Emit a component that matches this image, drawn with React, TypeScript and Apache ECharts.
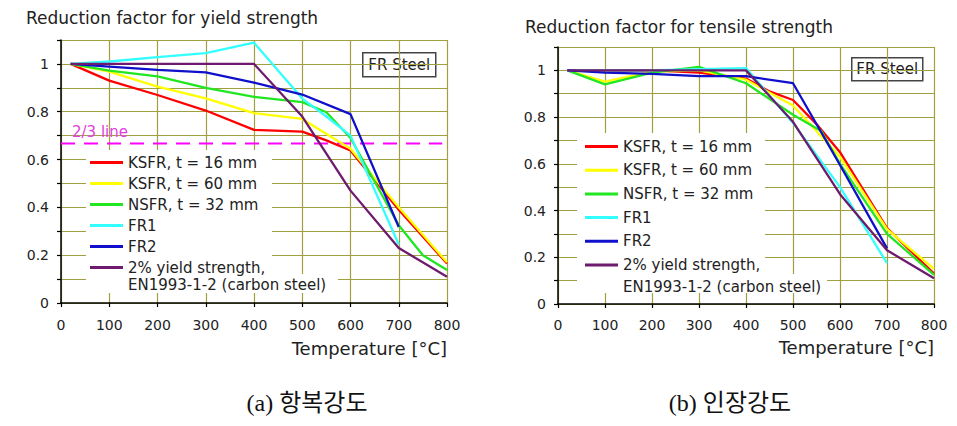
import React, { useEffect, useRef } from "react";
import * as echarts from "echarts";

const FONT = '"DejaVu Sans", Verdana, sans-serif';
const CAPTION_FONT = '"Liberation Serif", "Noto Sans CJK KR", serif';

// Legend / series names
const seriesNames = [
  "KSFR, t = 16 mm",
  "KSFR, t = 60 mm",
  "NSFR, t = 32 mm",
  "FR1",
  "FR2",
  "2% yield strength,",
];
const secondLine = "EN1993-1-2 (carbon steel)";
const seriesColors = ["#ff0000", "#ffff00", "#22e622", "#33ffff", "#1010cc", "#6e1a6e"];

// x-axis ticks
const tempTicks = [0, 100, 200, 300, 400, 500, 600, 700, 800];

// ---------- (a) yield strength ----------
const yKSFR16T = [20, 100, 200, 300, 400, 500, 550, 600, 700, 800];
const yKSFR16V = [1.0, 0.93, 0.87, 0.805, 0.724, 0.717, 0.68, 0.638, 0.39, 0.165];
const yKSFR60T = [20, 100, 200, 300, 400, 500, 600, 700, 800];
const yKSFR60V = [1.0, 0.968, 0.905, 0.856, 0.794, 0.77, 0.645, 0.4, 0.17];
const yNSFRT = [20, 100, 200, 300, 400, 500, 550, 600, 700, 750, 800];
const yNSFRV = [1.0, 0.972, 0.948, 0.9, 0.862, 0.84, 0.798, 0.69, 0.325, 0.2, 0.138];
const yFR1T = [20, 100, 200, 300, 400, 500, 550, 600, 700];
const yFR1V = [1.0, 1.01, 1.028, 1.045, 1.089, 0.855, 0.78, 0.7, 0.245];
const yFR2T = [20, 100, 200, 300, 400, 500, 600, 700];
const yFR2V = [1.0, 0.989, 0.975, 0.965, 0.922, 0.872, 0.79, 0.318];
const yENT = [20, 400, 500, 600, 700, 800];
const yENV = [1.0, 1.0, 0.78, 0.47, 0.23, 0.11];

// 2/3 line
const twoThirdsT = [0, 790];
const twoThirdsV = 2 / 3;

// ---------- (b) tensile strength ----------
const tKSFR16T = [20, 100, 200, 300, 400, 450, 500, 550, 600, 700, 800];
const tKSFR16V = [1.0, 1.0, 1.0, 0.99, 0.965, 0.91, 0.873, 0.77, 0.65, 0.325, 0.13];
const tKSFR60T = [20, 100, 200, 300, 400, 500, 600, 700, 800];
const tKSFR60V = [1.0, 0.952, 0.995, 1.0, 0.96, 0.85, 0.63, 0.32, 0.15];
const tNSFRT = [20, 100, 200, 300, 400, 500, 560, 600, 700, 800];
const tNSFRV = [1.0, 0.94, 0.99, 1.015, 0.945, 0.81, 0.74, 0.6, 0.3, 0.125];
const tFR1T = [20, 100, 200, 300, 400, 500, 600, 700];
const tFR1V = [1.0, 1.0, 1.0, 1.005, 1.01, 0.775, 0.5, 0.175];
const tFR2T = [20, 100, 200, 300, 400, 500, 600, 700];
const tFR2V = [1.0, 0.99, 0.985, 0.975, 0.975, 0.945, 0.595, 0.238];
const tENT = [20, 400, 500, 600, 700, 800];
const tENV = [1.0, 1.0, 0.78, 0.47, 0.23, 0.11];

const yieldSets = [
  [yKSFR16T, yKSFR16V],
  [yKSFR60T, yKSFR60V],
  [yNSFRT, yNSFRV],
  [yFR1T, yFR1V],
  [yFR2T, yFR2V],
  [yENT, yENV],
];
const tensileSets = [
  [tKSFR16T, tKSFR16V],
  [tKSFR60T, tKSFR60V],
  [tNSFRT, tNSFRV],
  [tFR1T, tFR1V],
  [tFR2T, tFR2V],
  [tENT, tENV],
];

const titles = ["Reduction factor for yield strength", "Reduction factor for tensile strength"];
const axisName = "Temperature [°C]";
const captions = ["(a) 항복강도", "(b) 인장강도"];
const boxLabel = "FR Steel";
const twoThirdsLabel = "2/3 line";

const GRID_COLOR = "#a0a040";

function zip(t: number[], v: number[]) {
  return t.map((x, i) => [x, v[i]]);
}

function yLabel(v: number) {
  const r = Math.round(v * 10);
  if (r % 2 !== 0 || r > 10) return "";
  if (r === 0) return "0";
  if (r === 10) return "1";
  return (r / 10).toString();
}

function mkX(idx: number, namePad: number, labelMargin: number) {
  return {
    type: "value",
    gridIndex: idx,
    min: tempTicks[0],
    max: tempTicks[tempTicks.length - 1],
    interval: 100,
    name: axisName,
    nameLocation: "end",
    nameGap: 0,
    nameTextStyle: {
      align: "right",
      verticalAlign: "top",
      padding: [namePad, 0, 0, 0],
      fontSize: 18,
      color: "#222",
      fontFamily: FONT,
    },
    axisLine: { show: true, onZero: false, lineStyle: { color: "#000", width: 1.5 } },
    axisTick: { show: true, length: 4, lineStyle: { color: "#000", width: 1.2 } },
    axisLabel: { margin: labelMargin, fontSize: 14, color: "#222", fontFamily: FONT },
    splitLine: { show: true, lineStyle: { color: GRID_COLOR, width: 1.2 } },
  };
}

function mkY(idx: number) {
  return {
    type: "value",
    gridIndex: idx,
    min: 0,
    max: 1.1,
    interval: 0.1,
    axisLine: { show: true, onZero: false, lineStyle: { color: "#000", width: 1.5 } },
    axisTick: { show: true, length: 4, lineStyle: { color: "#000", width: 1.2 } },
    axisLabel: { margin: 12, fontSize: 14, color: "#222", fontFamily: FONT, formatter: yLabel },
    splitLine: { show: true, lineStyle: { color: GRID_COLOR, width: 1.2 } },
  };
}

function mkSeries(sets: number[][][], axisIdx: number) {
  return sets.map(([t, v], i) => ({
    type: "line",
    name: seriesNames[i],
    xAxisIndex: axisIdx,
    yAxisIndex: axisIdx,
    data: zip(t, v),
    showSymbol: false,
    symbol: "none",
    color: seriesColors[i],
    lineStyle: { color: seriesColors[i], width: 2.3 },
    z: 3,
  }));
}

function mkLegends(left: number, top: number, gap: number, lastTop: number) {
  const common = {
    orient: "vertical",
    left,
    padding: 0,
    icon: "rect",
    itemWidth: 33,
    itemHeight: 3,
    selectedMode: false,
    textStyle: { fontSize: 15, color: "#222", fontFamily: FONT },
  };
  return [
    { ...common, top, itemGap: gap, data: seriesNames.map((n) => ({ name: n })) },
    { ...common, top: lastTop, data: [{ name: secondLine, icon: "none" }] },
  ];
}

function frBox(x: number, y: number, w: number, h: number) {
  return {
    type: "group",
    left: x,
    top: y,
    z: 10,
    children: [
      {
        type: "rect",
        shape: { x: 0, y: 0, width: w, height: h },
        style: { fill: "#fff", stroke: "#444", lineWidth: 1.5 },
      },
      {
        type: "text",
        x: w / 2,
        y: h / 2,
        style: {
          text: boxLabel,
          fill: "#222",
          font: `15px ${FONT}`,
          align: "center",
          verticalAlign: "middle",
        },
      },
    ],
  };
}

function whiteRect(x: number, y: number, w: number, h: number) {
  return {
    type: "rect",
    shape: { x, y, width: w, height: h },
    style: { fill: "#fff" },
    z: 1,
    silent: true,
  };
}

export default function App() {
  const ref = useRef<HTMLDivElement>(null);
  useEffect(() => {
    if (!ref.current) return;
    const chart = echarts.init(ref.current, undefined, { renderer: "svg" });
    const titleStyle = { fontSize: 17, fontWeight: "normal", color: "#222", fontFamily: FONT };
    const option: any = {
      animation: false,
      backgroundColor: "#fff",
      textStyle: { fontFamily: FONT },
      title: [
        { text: titles[0], left: 26, top: 9, padding: 0, textStyle: titleStyle },
        { text: titles[1], left: 525, top: 18, padding: 0, textStyle: titleStyle },
      ],
      grid: [
        { left: 61, top: 40, width: 386, height: 263 },
        { left: 558, top: 47, width: 376, height: 257 },
      ],
      xAxis: [mkX(0, 36, 15), mkX(1, 34, 14)],
      yAxis: [mkY(0), mkY(1)],
      legend: [...mkLegends(90, 155, 6, 277), ...mkLegends(585, 139, 8.7, 279)],
      graphic: [
        whiteRect(86, 150, 186, 128),
        whiteRect(86, 274, 252, 19),
        whiteRect(577, 133, 188, 145),
        whiteRect(577, 274, 250, 19),
        frBox(362, 52, 73, 24),
        frBox(851, 57, 71, 23),
        {
          type: "text",
          x: 72,
          y: 132,
          z: 5,
          style: {
            text: twoThirdsLabel,
            fill: "#e040e0",
            font: `15px ${FONT}`,
            verticalAlign: "middle",
          },
        },
        {
          type: "text",
          x: 307,
          y: 403,
          style: {
            text: captions[0],
            fill: "#111",
            font: `24px ${CAPTION_FONT}`,
            align: "center",
            verticalAlign: "middle",
          },
        },
        {
          type: "text",
          x: 730,
          y: 403,
          style: {
            text: captions[1],
            fill: "#111",
            font: `24px ${CAPTION_FONT}`,
            align: "center",
            verticalAlign: "middle",
          },
        },
      ],
      series: [
        {
          type: "line",
          name: "2/3",
          xAxisIndex: 0,
          yAxisIndex: 0,
          data: twoThirdsT.map((t) => [t, twoThirdsV]),
          symbol: "none",
          color: "#ff00ff",
          lineStyle: { color: "#ff00ff", width: 2, type: [14, 9] },
          z: 3,
        },
        ...mkSeries(yieldSets, 0),
        ...mkSeries(tensileSets, 1),
        {
          type: "line",
          name: secondLine,
          xAxisIndex: 0,
          yAxisIndex: 0,
          data: [],
          symbol: "none",
          color: "#ffffff",
        },
      ],
    };
    chart.setOption(option);
    return () => chart.dispose();
  }, []);
  return (
    <div
      ref={ref}
      style={{ position: "absolute", left: 0, top: 0, width: 957, height: 426 }}
    />
  );
}
